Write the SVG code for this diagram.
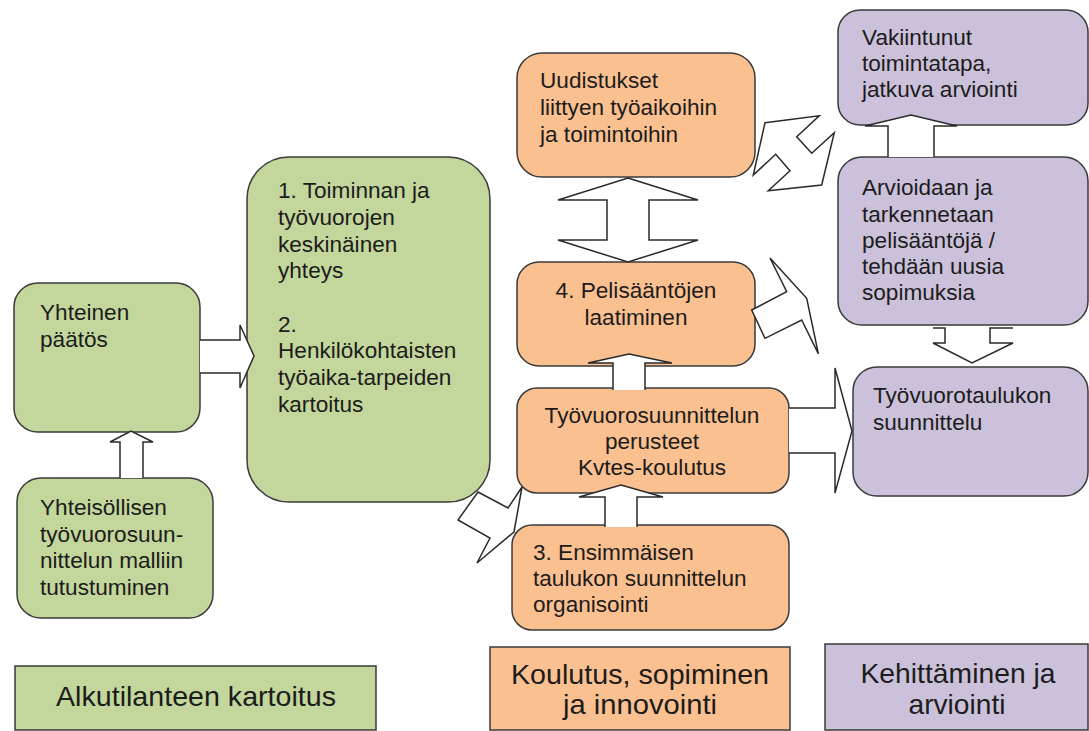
<svg xmlns="http://www.w3.org/2000/svg" width="1089" height="731" viewBox="0 0 1089 731">
<style>
.g{fill:#c3d69b;stroke:#3a3a3a;stroke-width:1.5}
.o{fill:#fac090;stroke:#3a3a3a;stroke-width:1.5}
.p{fill:#ccc1da;stroke:#3a3a3a;stroke-width:1.5}
.t{font-family:"Liberation Sans",Arial,sans-serif;font-size:22.6px;fill:#1c1c1c}
.c{text-anchor:middle}
.l{font-family:"Liberation Sans Narrow","Liberation Sans",Arial,sans-serif;font-size:28.5px;fill:#1c1c1c;text-anchor:middle}
.a{fill:#fff;stroke:#2a2a2a;stroke-width:1.5;stroke-linejoin:miter}
</style>
<rect width="1089" height="731" fill="#fff"/>
<g id="yhteinen-paatos">
<rect class="g" x="14" y="283" width="186" height="149" rx="24"/>
<text class="t" x="40" y="320">Yhteinen</text>
<text class="t" x="40" y="347">päätös</text>
</g>
<g id="yhteisollisen">
<rect class="g" x="17" y="478" width="196" height="140" rx="24"/>
<text class="t" x="40" y="515">Yhteisöllisen</text>
<text class="t" x="40" y="542">työvuorosuun-</text>
<text class="t" x="40" y="568">nittelun malliin</text>
<text class="t" x="40" y="595">tutustuminen</text>
</g>
<g id="toiminnan-kartoitus">
<rect class="g" x="247" y="157" width="243" height="345" rx="42"/>
<text class="t" x="278" y="198">1. Toiminnan ja</text>
<text class="t" x="278" y="225">työvuorojen</text>
<text class="t" x="278" y="252">keskinäinen</text>
<text class="t" x="278" y="278">yhteys</text>
<text class="t" x="278" y="332">2.</text>
<text class="t" x="278" y="358">Henkilökohtaisten</text>
<text class="t" x="278" y="385">työaika-tarpeiden</text>
<text class="t" x="278" y="412">kartoitus</text>
</g>
<g id="uudistukset">
<rect class="o" x="517" y="53" width="238" height="124" rx="25"/>
<text class="t" x="540" y="88">Uudistukset</text>
<text class="t" x="540" y="115">liittyen työaikoihin</text>
<text class="t" x="540" y="142">ja toimintoihin</text>
</g>
<g id="pelisaannot">
<rect class="o" x="517" y="262" width="238" height="104" rx="22"/>
<text class="t c" x="636" y="298">4. Pelisääntöjen</text>
<text class="t c" x="636" y="325">laatiminen</text>
</g>
<g id="perusteet">
<rect class="o" x="517" y="388" width="272" height="105" rx="20"/>
<text class="t c" x="652" y="423">Työvuorosuunnittelun</text>
<text class="t c" x="652" y="449">perusteet</text>
<text class="t c" x="652" y="475">Kvtes-koulutus</text>
</g>
<g id="ensimmainen">
<rect class="o" x="512" y="525" width="277" height="105" rx="20"/>
<text class="t" x="533" y="560">3. Ensimmäisen</text>
<text class="t" x="533" y="586">taulukon suunnittelun</text>
<text class="t" x="533" y="612">organisointi</text>
</g>
<g id="vakiintunut">
<rect class="p" x="838" y="10" width="250" height="115" rx="22"/>
<text class="t" x="862" y="45">Vakiintunut</text>
<text class="t" x="862" y="71">toimintatapa,</text>
<text class="t" x="862" y="97">jatkuva arviointi</text>
</g>
<g id="arvioidaan">
<rect class="p" x="838" y="157" width="250" height="168" rx="24"/>
<text class="t" x="862" y="195">Arvioidaan ja</text>
<text class="t" x="862" y="222">tarkennetaan</text>
<text class="t" x="862" y="248">pelisääntöjä /</text>
<text class="t" x="862" y="274">tehdään uusia</text>
<text class="t" x="862" y="300">sopimuksia</text>
</g>
<g id="tyovuorotaulukko">
<rect class="p" x="853" y="367" width="235" height="129" rx="24"/>
<text class="t" x="873" y="403">Työvuorotaulukon</text>
<text class="t" x="873" y="430">suunnittelu</text>
</g>
<g id="legend-alkutilanne">
<rect class="g" x="15" y="666" width="361" height="64"/>
<text class="l" x="196" y="706" textLength="280" lengthAdjust="spacingAndGlyphs">Alkutilanteen kartoitus</text>
</g>
<g id="legend-koulutus">
<rect class="o" x="490" y="647" width="300" height="83"/>
<text class="l" x="640" y="684" textLength="258" lengthAdjust="spacingAndGlyphs">Koulutus, sopiminen</text>
<text class="l" x="640" y="714" textLength="154" lengthAdjust="spacingAndGlyphs">ja innovointi</text>
</g>
<g id="legend-kehittaminen">
<rect class="p" x="825" y="644" width="263" height="86"/>
<text class="l" x="958" y="683" textLength="195" lengthAdjust="spacingAndGlyphs">Kehittäminen ja</text>
<text class="l" x="957" y="714" textLength="97" lengthAdjust="spacingAndGlyphs">arviointi</text>
</g>
<g id="connectors">
<path class="a" d="M200,340 L240,340 L240,325 L254,356 L240,388 L240,373 L200,373"/>
<path class="a" d="M120,478 L120,442 L110,442 L131,431 L153,442 L143,442 L143,478"/>
<path class="a" d="M478,492 L508,508 L522,487 L514,532 L477,563 L490,538 L458,520 Z"/>
<path class="a" d="M628,178 L698,200 L649,200 L649,240 L698,240 L628,262 L558,240 L607,240 L607,200 L558,200 Z"/>
<path class="a" d="M765,122.7 L819.3,115.7 L796.7,136.7 L811.7,153.3 L834.3,132.7 L821.7,185 L768.3,190.7 L790,170.7 L775.7,154.3 L753.3,175 Z"/>
<path class="a" d="M751.7,310 L786.7,291.7 L770,258 L806.7,298.3 L818.4,353.8 L801.7,320 L765,338.3 Z"/>
<path class="a" d="M789,408 L835,408 L835,368 L852,431 L835,493 L835,453 L789,453"/>
<path class="a" d="M613,390 L613,363 L588,363 L629,354 L672,363 L645,363 L645,390"/>
<path class="a" d="M605,527 L605,497 L579,497 L621,485 L663,497 L637,497 L637,527"/>
<path class="a" d="M888,157 L888,126 L865,126 L911,115 L957,126 L934,126 L934,157"/>
<path class="a" d="M933,328 L945,328 L945,343 L933,343 L972,363 L1013,343 L990,343 L990,328 L1013,328"/>
</g>
</svg>
